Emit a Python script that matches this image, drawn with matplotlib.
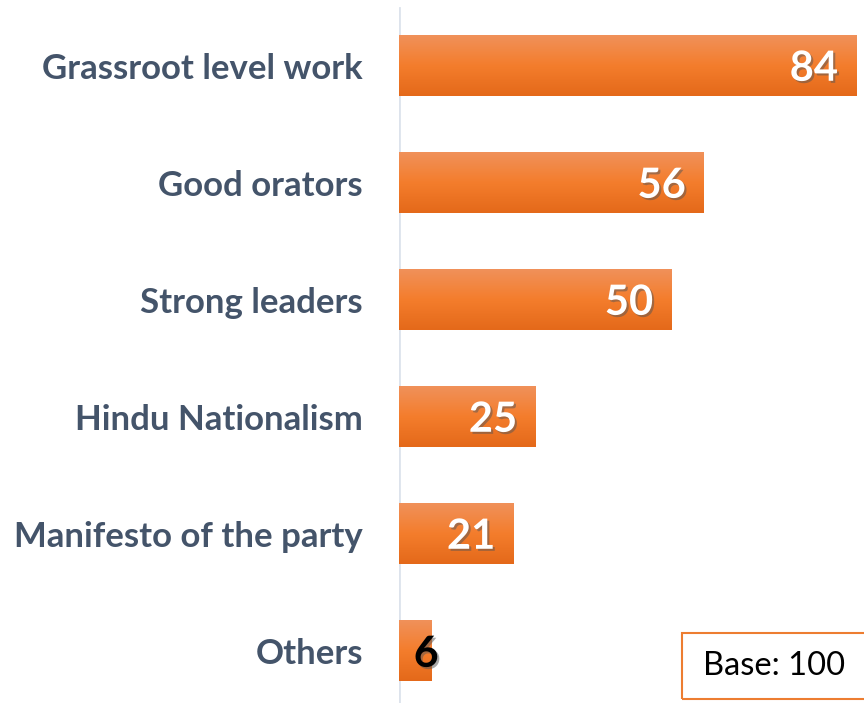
import numpy as np
import matplotlib
matplotlib.use("Agg")
import matplotlib.pyplot as plt
import matplotlib.patheffects as pe
from matplotlib.colors import to_rgb
from matplotlib.patches import Rectangle

categories = ["Grassroot level work", "Good orators", "Strong leaders",
              "Hindu Nationalism", "Manifesto of the party", "Others"]
values = [84, 56, 50, 25, 21, 6]
base_text = "Base: 100"

plt.rcParams["font.family"] = ["Lato", "DejaVu Sans"]

W, H = 864, 703
fig = plt.figure(figsize=(W / 100, H / 100), dpi=100)
ax = fig.add_axes([399 / W, 0, 1 - 399 / W, 1])

bar_h = 0.513
top_c = np.array(to_rgb("#F0915A"))
mid_c = np.array(to_rgb("#F47D2C"))
bot_c = np.array(to_rgb("#E4691A"))
t = np.linspace(0, 1, 64)[:, None]
grad = np.where(t < 0.5, top_c + (mid_c - top_c) * (t / 0.5),
                mid_c + (bot_c - mid_c) * ((t - 0.5) / 0.5))
grad = grad[:, None, :]

shadow = [pe.SimplePatchShadow(offset=(1.5, -1.5), shadow_rgbFace="#555555", alpha=0.5),
          pe.Normal()]

for i, (cat, v) in enumerate(zip(categories, values)):
    ax.imshow(grad, extent=[0, v, i + bar_h / 2, i - bar_h / 2],
              aspect="auto", interpolation="bilinear", zorder=2)
    if v >= 15:
        ax.annotate(str(v), xy=(v, i), xytext=(-13, -2), textcoords="offset points",
                    ha="right", va="center", fontsize=30, fontweight="bold",
                    color="white", path_effects=shadow, zorder=4)
    else:
        ax.annotate(str(v), xy=(v, i), xytext=(-4, -2), textcoords="offset points",
                    ha="center", va="center", fontsize=31, fontweight="bold",
                    color="black", path_effects=shadow, zorder=4)

ax.set_xlim(0, 85.47)
ax.set_ylim((703 - 66) / 117, -66 / 117)
ax.set_yticks(range(len(categories)))
ax.set_yticklabels(categories, fontsize=25, fontweight="bold", color="#44546A")
ax.tick_params(axis="y", length=0, pad=26)
ax.set_xticks([])
for s in ax.spines.values():
    s.set_visible(False)
ax.axvline(0, ymin=0, ymax=1 - 8 / H, color="#DDE3EC", lw=2, zorder=1)
ax.set_facecolor("none")

fig.patches.append(Rectangle((682 / W, 4 / H), (W + 5 - 682) / W, 66 / H,
                             transform=fig.transFigure, fill=False,
                             edgecolor="#ED7D31", lw=1.5, zorder=5))
fig.text(774 / W, 37 / H, base_text, ha="center", va="center",
         fontsize=23.5, color="black")

fig.savefig("out.png", dpi=100)
